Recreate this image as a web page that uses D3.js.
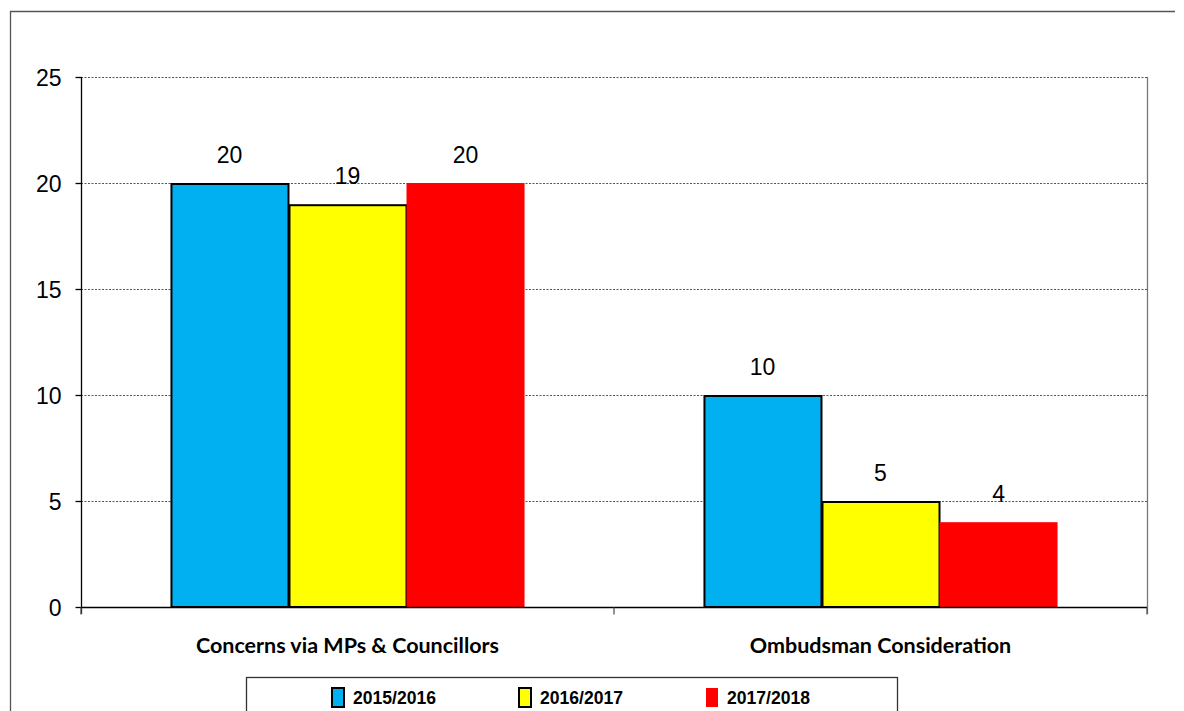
<!DOCTYPE html>
<html><head><meta charset="utf-8">
<script src="https://cdn.jsdelivr.net/npm/d3@7"></script>
<style>body{margin:0;background:#fff}svg{display:block}</style>
</head><body>
<svg id="chart" width="1184" height="711"></svg>
<script>
const categories = ["Concerns via MPs & Councillors", "Ombudsman Consideration"];
const seriesNames = ["2015/2016", "2016/2017", "2017/2018"];
const values2015 = [20, 10];
const values2016 = [19, 5];
const values2017 = [20, 4];
const yTicks = [0, 5, 10, 15, 20, 25];
const colors = ["#00B0F0", "#FFFF00", "#FF0000"];
const strokes = ["#000", "#000", "none"];

const seriesValues = [values2015, values2016, values2017];
const flat = [];
categories.forEach((c, ci) => seriesNames.forEach((s, si) => flat.push({ c, s, si, v: seriesValues[si][ci] })));

const svg = d3.select("#chart");
const L = 81, R = 1147, T = 77, B = 607;

// outer frame (top and left visible)
svg.append("path").attr("d", "M10.5,711 V11.5 H1175").attr("fill", "none").attr("stroke", "#555").attr("stroke-width", 1.3);

const x0 = d3.scaleBand().domain(categories).range([L, R]).paddingInner(0).paddingOuter(0);
const x1 = d3.scaleBand().domain(seriesNames).range([0, x0.bandwidth()]).paddingInner(0).paddingOuter(0.758);
const y = d3.scaleLinear().domain([0, 25]).range([B, T]);

// gridlines
svg.append("g").selectAll("line.grid").data(yTicks.filter(d => d > 0)).join("line").attr("class", "grid")
  .attr("x1", L).attr("x2", R).attr("y1", d => y(d) + 0.5).attr("y2", d => y(d) + 0.5)
  .attr("stroke", "#555").attr("stroke-width", 1).attr("stroke-dasharray", "2,1.5");

// right border
svg.append("line").attr("x1", R + 0.5).attr("x2", R + 0.5).attr("y1", T).attr("y2", B + 7)
  .attr("stroke", "#777").attr("stroke-width", 1.3);

// bars
svg.append("g").selectAll("rect.bar").data(flat).join("rect").attr("class", "bar")
  .attr("x", d => x0(d.c) + x1(d.s) + (d.si < 2 ? 1 : 0))
  .attr("width", d => x1.bandwidth() - (d.si < 2 ? 1 : 0))
  .attr("y", d => y(d.v) + (d.si < 2 ? 1 : 0))
  .attr("height", d => y(0) - y(d.v) - (d.si < 2 ? 1 : 0))
  .attr("fill", d => colors[d.si])
  .attr("stroke", d => strokes[d.si]).attr("stroke-width", 2);

// value labels
svg.append("g").selectAll("text.val").data(flat).join("text").attr("class", "val")
  .attr("x", d => x0(d.c) + x1(d.s) + x1.bandwidth() / 2)
  .attr("y", d => y(d.v) - 20)
  .attr("text-anchor", "middle")
  .attr("font-family", "Liberation Sans, Arial, sans-serif").attr("font-size", 23)
  .attr("fill", "#000").text(d => String(d.v));

// y axis
const yAxis = d3.axisLeft(y).tickValues(yTicks).tickSize(6).tickPadding(14).tickFormat(d3.format("d"));
const yg = svg.append("g").attr("transform", `translate(${L + 0.5},0)`).call(yAxis);
yg.select(".domain").attr("d", `M0,${T} V${B + 7}`).attr("stroke", "#000").attr("stroke-width", 1.3);
yg.selectAll(".tick line").attr("stroke", "#000").attr("stroke-width", 1.3);
yg.selectAll(".tick text").attr("font-family", "Liberation Sans, Arial, sans-serif").attr("font-size", 23).attr("fill", "#000").attr("dy", "0.36em");

// x axis
const xg = svg.append("g").attr("transform", `translate(0,${B + 0.5})`);
xg.append("line").attr("x1", L).attr("x2", R).attr("stroke", "#000").attr("stroke-width", 1.3);
xg.selectAll("line.tk").data([L, L + x0.bandwidth(), R]).join("line").attr("class", "tk")
  .attr("x1", d => d).attr("x2", d => d).attr("y1", 0).attr("y2", 7).attr("stroke", "#555").attr("stroke-width", 1.3);
xg.selectAll("text.cat").data(categories).join("text").attr("class", "cat")
  .attr("x", d => x0(d) + x0.bandwidth() / 2).attr("y", 45)
  .attr("text-anchor", "middle")
  .attr("font-family", "Lato, 'Open Sans', sans-serif").attr("font-weight", "bold").attr("font-size", 21.5)
  .attr("fill", "#000").text(d => d);

// legend
const lg = svg.append("g");
lg.append("rect").attr("x", 246.5).attr("y", 677.5).attr("width", 651).attr("height", 60)
  .attr("fill", "#fff").attr("stroke", "#333").attr("stroke-width", 1.3);
const legendX = [331, 518, 705];
const items = lg.selectAll("g.item").data(seriesNames).join("g").attr("class", "item")
  .attr("transform", (d, i) => `translate(${legendX[i]},687)`);
items.append("rect").attr("x", 1).attr("y", 1).attr("width", 12).attr("height", 19)
  .attr("fill", (d, i) => colors[i]).attr("stroke", (d, i) => strokes[i]).attr("stroke-width", 2);
items.append("text").attr("x", 22).attr("y", 11)
  .attr("dy", "0.35em")
  .attr("font-family", "'Liberation Sans Narrow', 'Liberation Sans', sans-serif").attr("font-weight", "bold").attr("font-size", 18)
  .attr("textLength", 83).attr("lengthAdjust", "spacingAndGlyphs")
  .attr("fill", "#000").text(d => d);
</script>
</body></html>
